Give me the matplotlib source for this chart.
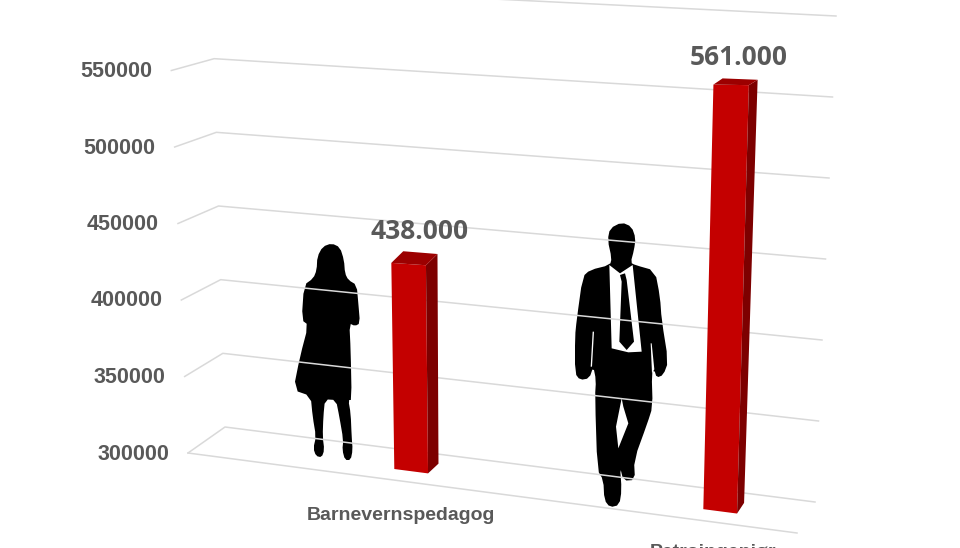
import matplotlib
matplotlib.use("Agg")
import matplotlib.pyplot as plt
import numpy as np

# chart data
categories = ["Barnevernspedagog", "Petroingeniør"]
values = [438000, 561000]
tick_values = [300000, 350000, 400000, 450000, 500000, 550000, 600000]

axis_min, axis_max = 300000, 600000
bar_x = [0.349, 0.862]
bar_w = 0.056
bar_depth = (0.30, 0.65)
name_drop = [35, 31]

GRID = "#d9d9d9"
TEXT = "#595959"

# corners of the 3d box in image pixels (x, y)
BACK_L, BACK_R = np.array([225, 427.]), np.array([815, 502.])
FRONT_L, FRONT_R = np.array([188, 453.]), np.array([797, 533.])
BACK_L_TOP, BACK_R_TOP = np.array([212, -15.]), np.array([836, 16.])
FRONT_L_TOP, FRONT_R_TOP = np.array([168, -6.]), np.array([818, 23.])
# bars stand inside the box, this plane gives their real height
BAR_L_TOP, BAR_R_TOP = np.array([167.6, 40.]), np.array([812.6, 24.])


def project(x, d, v, top_l=FRONT_L_TOP, top_r=FRONT_R_TOP):
    """Map category position x, depth d and value v to image pixels."""
    t = (v - axis_min) / (axis_max - axis_min)
    floor_back = BACK_L + x * (BACK_R - BACK_L)
    floor_front = FRONT_L + x * (FRONT_R - FRONT_L)
    top_back = BACK_L_TOP + x * (BACK_R_TOP - BACK_L_TOP)
    top_front = top_l + x * (top_r - top_l)
    bottom = floor_back + d * (floor_front - floor_back)
    top = top_back + d * (top_front - top_back)
    return bottom + t * (top - bottom)


def bar_point(x, d, v):
    return project(x, d, v, BAR_L_TOP, BAR_R_TOP)


# silhouette outlines, traced in zoomed picture units (3x, with an origin)
woman_origin = (280, 210)
woman_outline = [(155, 100), (180, 112), (192, 150), (195, 190), (205, 210), (230, 225), (235, 280),
                 (240, 340), (225, 348), (208, 340), (212, 420), (215, 570), (205, 570), (212, 610),
                 (215, 680), (218, 720), (212, 750), (195, 750), (187, 720), (190, 690), (178, 620),
                 (168, 570), (135, 568), (130, 620), (128, 680), (133, 720), (125, 742), (108, 738),
                 (100, 715), (108, 680), (98, 620), (92, 558), (40, 540), (60, 440), (85, 345),
                 (65, 330), (72, 225), (100, 205), (110, 180), (112, 140), (128, 110)]

man_origin = (560, 210)
man_outline = [(185, 37), (215, 50), (227, 85), (222, 120), (212, 158), (225, 165), (285, 182),
               (300, 260), (305, 330), (325, 455), (310, 495), (290, 503), (283, 480), (275, 490),
               (278, 590), (262, 640), (222, 750), (225, 810), (190, 812), (180, 770), (185, 840),
               (178, 885), (150, 892), (133, 870), (130, 810), (112, 780), (105, 560), (108, 510),
               (100, 470), (88, 505), (60, 510), (45, 490), (45, 380), (50, 330), (68, 200),
               (90, 180), (150, 165), (155, 145), (143, 90), (150, 55)]
man_shirt = [(148, 165), (180, 190), (218, 165), (245, 425), (205, 427), (155, 415)]
man_tie = [(180, 195), (195, 190), (200, 210), (222, 395), (200, 420), (178, 395), (185, 215)]
man_legs_gap = [(185, 565), (168, 650), (175, 715), (205, 640), (190, 590)]
man_arm_gap_l = [(98, 365), (102, 365), (96, 470), (92, 470)]
man_arm_gap_r = [(272, 400), (275, 400), (283, 478), (276, 490)]


def smooth(points, rounds=1):
    """Corner cutting, takes the hard edges off a traced outline."""
    pts = np.array(points, dtype=float)
    for _ in range(rounds):
        nxt = np.roll(pts, -1, axis=0)
        pts = np.column_stack([0.75 * pts + 0.25 * nxt, 0.25 * pts + 0.75 * nxt]).reshape(-1, 2)
    return pts


def shape(points, origin, color, zorder):
    pts = np.array(points) / 3 + origin
    ax.fill(pts[:, 0], pts[:, 1], color=color, lw=0, zorder=zorder)


fig = plt.figure(figsize=(9.6, 5.48), dpi=100)
ax = fig.add_axes([0, 0, 1, 1])
ax.set_xlim(0, 960)
ax.set_ylim(548, 0)
ax.axis("off")

shape(smooth(woman_outline), woman_origin, "black", 1)
shape(smooth(man_outline), man_origin, "black", 1)
shape(man_shirt, man_origin, "white", 1.1)
shape(man_tie, man_origin, "black", 1.2)
for gap in (man_legs_gap, man_arm_gap_l, man_arm_gap_r):
    shape(gap, man_origin, "white", 1.1)

# gridlines and the left wall stubs
for tick in tick_values:
    pts = np.array([project(0, 1, tick), project(0, 0, tick), project(1, 0, tick)])
    ax.plot(pts[:, 0], pts[:, 1], color=GRID, lw=1.1, zorder=2)
    left = project(0, 1, tick)
    ax.text(left[0] - 19, left[1] + 1, str(tick), ha="right", va="center", color=TEXT,
            fontsize=15.5, fontweight="bold", family="Liberation Sans", zorder=5)

# front edge of the floor
floor_edge = np.array([project(0, 1, axis_min), project(1, 1, axis_min)])
ax.plot(floor_edge[:, 0], floor_edge[:, 1], color=GRID, lw=1.1, zorder=2)

# bars
d0, d1 = bar_depth
for x, value, name, drop in zip(bar_x, values, categories, name_drop):
    xl, xr = x - bar_w / 2, x + bar_w / 2
    front = [bar_point(xl, d1, axis_min), bar_point(xr, d1, axis_min),
             bar_point(xr, d1, value), bar_point(xl, d1, value)]
    side = [bar_point(xr, d1, axis_min), bar_point(xr, d0, axis_min),
            bar_point(xr, d0, value), bar_point(xr, d1, value)]
    top = [bar_point(xl, d1, value), bar_point(xr, d1, value),
           bar_point(xr, d0, value), bar_point(xl, d0, value)]
    for face, color in ((front, "#c40000"), (side, "#7d0000"), (top, "#9c0000")):
        face = np.array(face)
        ax.fill(face[:, 0], face[:, 1], color=color, lw=0, zorder=3)

    label_pos = bar_point(x, d0, value)
    ax.text(label_pos[0] - 1, label_pos[1] - 8, f"{value:,}".replace(",", "."), ha="center", va="bottom",
            color=TEXT, fontsize=19, fontweight="bold", family="Open Sans", zorder=5)

    name_pos = bar_point(x, 1, axis_min)
    ax.text(name_pos[0], name_pos[1] + drop, name, ha="center", va="center", color=TEXT,
            fontsize=14, fontweight="bold", family="Liberation Sans", zorder=5)

fig.savefig("out.png", dpi=100, facecolor="white")
